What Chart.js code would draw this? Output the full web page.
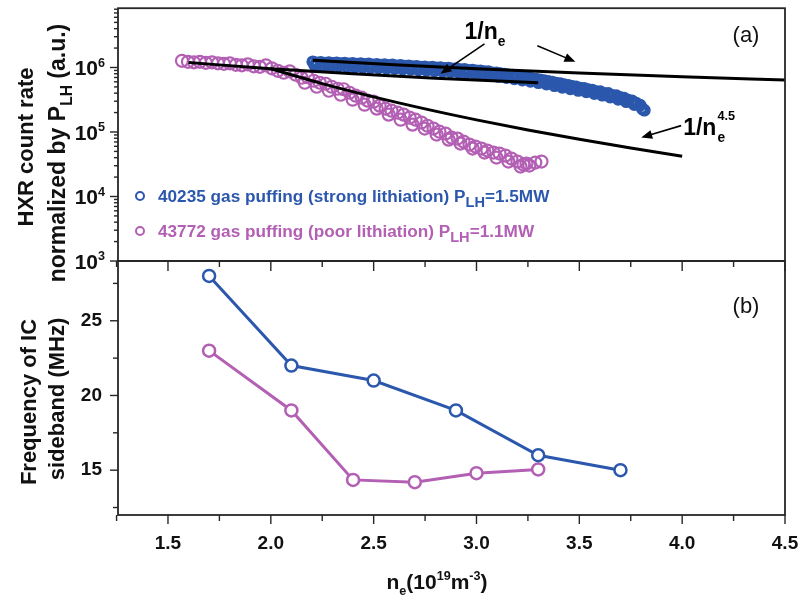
<!DOCTYPE html>
<html>
<head>
<meta charset="utf-8">
<script src="https://cdn.jsdelivr.net/npm/chart.js@4.4.0/dist/chart.umd.min.js"></script>
<style>
  html, body { margin: 0; padding: 0; background: #fff; }
  #wrap { position: relative; width: 803px; height: 602px; }
  canvas { position: absolute; left: 0; top: 0; }
</style>
</head>
<body>
<div id="wrap">
  <canvas id="hxr" width="803" height="602"></canvas>
  <canvas id="freq" width="803" height="602"></canvas>
</div>
<script>
// panel (a): HXR count rate vs ne
const blueNe = [2.204, 2.223, 2.243, 2.262, 2.282, 2.301, 2.320, 2.340, 2.359, 2.379,
  2.398, 2.417, 2.437, 2.456, 2.476, 2.495, 2.515, 2.534, 2.553, 2.573,
  2.592, 2.612, 2.631, 2.650, 2.670, 2.689, 2.709, 2.728, 2.748, 2.767,
  2.786, 2.806, 2.825, 2.845, 2.864, 2.883, 2.903, 2.922, 2.942, 2.961,
  2.981, 3.000, 3.019, 3.039, 3.058, 3.078, 3.097, 3.117, 3.136, 3.155,
  3.175, 3.194, 3.214, 3.233, 3.252, 3.272, 3.291, 3.311, 3.330, 3.350,
  3.369, 3.388, 3.408, 3.427, 3.447, 3.466, 3.485, 3.505, 3.524, 3.544,
  3.563, 3.583, 3.602, 3.621, 3.641, 3.660, 3.680, 3.699, 3.718, 3.738,
  3.757, 3.777, 3.796, 3.816,
  2.214, 2.252, 2.291, 2.330, 2.369, 2.408, 2.447, 2.485, 2.524, 2.563,
  2.602, 2.641, 2.680, 2.718, 2.757, 2.796, 2.835, 2.874, 2.913, 2.951,
  2.990, 3.029, 3.068, 3.107, 3.146, 3.184, 3.223, 3.262, 3.301, 3.340,
  3.379, 3.417, 3.456, 3.495, 3.534, 3.573, 3.612, 3.650, 3.689, 3.728,
  3.767, 3.806];
const blueHxr = [1.225e6, 1.182e6, 1.203e6, 1.170e6, 1.191e6, 1.161e6, 1.182e6, 1.149e6, 1.170e6, 1.141e6,
  1.157e6, 1.129e6, 1.145e6, 1.117e6, 1.133e6, 1.101e6, 1.121e6, 1.089e6, 1.105e6, 1.078e6,
  1.093e6, 1.062e6, 1.078e6, 1.047e6, 1.062e6, 1.033e6, 1.044e6, 1.011e6, 1.025e6, 9.965e5,
  1.011e6, 9.824e5, 9.929e5, 9.650e5, 9.754e5, 9.480e5, 9.581e5, 9.279e5, 9.346e5, 9.052e5,
  9.116e5, 8.829e5, 8.859e5, 8.581e5, 8.581e5, 8.279e5, 8.250e5, 7.990e5, 7.905e5, 7.656e5,
  7.575e5, 7.336e5, 7.232e5, 7.029e5, 6.930e5, 6.711e5, 6.593e5, 6.407e5, 6.272e5, 6.074e5,
  5.925e5, 5.738e5, 5.598e5, 5.402e5, 5.288e5, 5.085e5, 4.995e5, 4.803e5, 4.751e5, 4.519e5,
  4.471e5, 4.239e5, 4.209e5, 3.977e5, 3.949e5, 3.704e5, 3.651e5, 3.424e5, 3.340e5, 3.110e5,
  3.022e5, 2.795e5, 2.603e5, 2.180e5,
  1.082e6, 1.062e6, 1.052e6, 1.044e6, 1.033e6, 1.022e6, 1.011e6, 1.000e6, 9.90e5, 9.76e5,
  9.65e5, 9.52e5, 9.38e5, 9.22e5, 9.05e5, 8.93e5, 8.77e5, 8.61e5, 8.46e5, 8.25e5,
  8.05e5, 7.82e5, 7.58e5, 7.28e5, 6.98e5, 6.69e5, 6.39e5, 6.12e5, 5.82e5, 5.54e5,
  5.23e5, 4.94e5, 4.67e5, 4.41e5, 4.20e5, 3.95e5, 3.72e5, 3.49e5, 3.22e5, 2.95e5,
  2.67e5, 2.30e5];

const pinkNe = [1.568, 1.597, 1.626, 1.655, 1.684, 1.714, 1.743, 1.772, 1.801, 1.830,
  1.859, 1.888, 1.917, 1.947, 1.976, 2.005, 2.034, 2.063, 2.092, 2.121,
  2.150, 2.180, 2.209, 2.238, 2.267, 2.296, 2.325, 2.354, 2.383, 2.413,
  2.442, 2.471, 2.500, 2.529, 2.558, 2.587, 2.617, 2.646, 2.675, 2.704,
  2.733, 2.762, 2.791, 2.820, 2.850, 2.879, 2.908, 2.937, 2.966, 2.995,
  3.024, 3.053, 3.083, 3.112, 3.141, 3.170, 3.199, 3.228, 3.257, 3.286, 3.316,
  2.165, 2.223, 2.282, 2.340, 2.398, 2.456, 2.515, 2.573, 2.631, 2.689,
  2.748, 2.806, 2.864, 2.922, 2.981, 3.039, 3.097, 3.155, 3.214, 3.243];
const pinkHxr = [1.270e6, 1.225e6, 1.203e6, 1.225e6, 1.182e6, 1.203e6, 1.161e6, 1.141e6, 1.161e6, 1.101e6,
  1.081e6, 1.121e6, 1.044e6, 1.025e6, 1.081e6, 9.72e5, 8.89e5, 8.28e5, 8.73e5, 7.71e5,
  6.93e5, 7.06e5, 6.23e5, 5.80e5, 5.60e5, 5.03e5, 4.68e5, 4.60e5, 4.06e5, 3.65e5,
  3.40e5, 3.06e5, 2.95e5, 2.56e5, 2.30e5, 2.14e5, 1.99e5, 1.86e5, 1.67e5, 1.55e5,
  1.40e5, 1.25e5, 1.13e5, 1.01e5, 9.44e4, 8.18e4, 7.90e4, 7.10e4, 6.38e4, 5.94e4,
  5.53e4, 5.15e4, 4.80e4, 4.63e4, 4.31e4, 3.87e4, 3.48e4, 3.13e4, 3.02e4, 3.36e4, 3.48e4,
  5.80e5, 5.03e5, 4.36e5, 3.78e5, 3.17e5, 2.65e5, 2.30e5, 1.86e5, 1.55e5, 1.30e5,
  1.13e5, 9.11e4, 7.62e4, 6.61e4, 5.53e4, 4.80e4, 4.01e4, 3.48e4, 2.91e4, 3.24e4];

// fitted scaling lines
const fitNeA = [2.204, 2.6, 3.0, 3.5, 4.0, 4.5];
const fitHxrA = [1.30e6, 1.102e6, 9.55e5, 8.19e5, 7.16e5, 6.37e5];
const fitNeB = [1.6, 2.0, 2.4, 2.8, 3.3];
const fitHxrB = [1.195e6, 9.56e5, 7.97e5, 6.83e5, 5.79e5];
const fitNeC = [2.0, 2.25, 2.5, 2.75, 3.0, 3.25, 3.5, 3.75, 4.0];
const fitHxrC = [9.55e5, 5.62e5, 3.50e5, 2.28e5, 1.54e5, 1.07e5, 7.70e4, 5.64e4, 4.22e4];

// panel (b): IC sideband frequency vs ne
const freqNeBlue = [1.7, 2.1, 2.5, 2.9, 3.3, 3.7];
const freqBlue = [28, 22, 21, 19, 16, 15];
const freqNePink = [1.7, 2.1, 2.4, 2.7, 3.0, 3.3];
const freqPink = [23, 19, 14.35, 14.2, 14.8, 15.05];

// ticks
const neTicks = [1.5, 2.0, 2.5, 3.0, 3.5, 4.0, 4.5];
const neTickLabels = ['1.5', '2.0', '2.5', '3.0', '3.5', '4.0', '4.5'];
const neMinorTicks = [1.25, 1.75, 2.25, 2.75, 3.25, 3.75, 4.25];
const hxrTicks = [1e3, 1e4, 1e5, 1e6];
const hxrTickExp = ['3', '4', '5', '6'];
const hxrMinorMant = [2, 3, 4, 5, 6, 7, 8, 9];
const freqTicks = [15, 20, 25];
const freqMinorTicks = [12.5, 17.5, 22.5, 27.5];

const blue = '#2b57ad';
const pink = '#b25fb4';
const axisColor = '#262626';
const FONT = '"Liberation Sans", Arial, Helvetica, sans-serif';

const pts = (xs, ys) => xs.map((x, i) => ({ x, y: ys[i] }));

// parts: [text, 'sub'|'sup'|'', sizeScale]
function drawRich(ctx, parts, x, y, size, align, weight) {
  weight = weight || 'bold';
  const fontOf = p => `${weight} ${(size * (p[2] || (p[1] ? 0.6 : 1))).toFixed(1)}px ${FONT}`;
  let w = 0;
  parts.forEach(p => { ctx.font = fontOf(p); w += ctx.measureText(p[0]).width; });
  let cx = align === 'center' ? x - w / 2 : align === 'right' ? x - w : x;
  ctx.textAlign = 'left';
  ctx.textBaseline = 'alphabetic';
  parts.forEach(p => {
    ctx.font = fontOf(p);
    const dy = p[1] === 'sub' ? size * 0.3 : p[1] === 'sup' ? -size * 0.42 : 0;
    ctx.fillText(p[0], cx, y + dy);
    cx += ctx.measureText(p[0]).width;
  });
  return cx;
}

function line(ctx, x1, y1, x2, y2) {
  ctx.beginPath();
  ctx.moveTo(x1, y1);
  ctx.lineTo(x2, y2);
  ctx.stroke();
}

function arrow(ctx, x1, y1, x2, y2) {
  const a = Math.atan2(y2 - y1, x2 - x1), L = 11, W = 4.5;
  ctx.lineWidth = 1.6;
  line(ctx, x1, y1, x2 - L * 0.8 * Math.cos(a), y2 - L * 0.8 * Math.sin(a));
  ctx.beginPath();
  ctx.moveTo(x2, y2);
  ctx.lineTo(x2 - L * Math.cos(a) + W * Math.sin(a), y2 - L * Math.sin(a) - W * Math.cos(a));
  ctx.lineTo(x2 - L * Math.cos(a) - W * Math.sin(a), y2 - L * Math.sin(a) + W * Math.cos(a));
  ctx.closePath();
  ctx.fill();
}

function ring(ctx, x, y, r, color) {
  ctx.beginPath();
  ctx.arc(x, y, r, 0, Math.PI * 2);
  ctx.strokeStyle = color;
  ctx.lineWidth = 2;
  ctx.stroke();
}

function xAxisTicks(ctx, xs, yPix, major, minor) {
  neTicks.forEach(v => line(ctx, xs.getPixelForValue(v), yPix, xs.getPixelForValue(v), yPix + major));
  neMinorTicks.forEach(v => line(ctx, xs.getPixelForValue(v), yPix, xs.getPixelForValue(v), yPix + minor));
}

const hxrDecor = {
  id: 'hxrDecor',
  afterDraw(chart) {
    const { ctx, chartArea: a, scales: { x, y } } = chart;
    ctx.save();
    ctx.strokeStyle = axisColor;
    ctx.fillStyle = axisColor;
    ctx.lineWidth = 1.8;
    ctx.strokeRect(a.left, a.top, a.right - a.left, a.bottom - a.top);

    // log ticks on left
    ctx.lineWidth = 1.4;
    hxrTicks.forEach(v => line(ctx, a.left, y.getPixelForValue(v), a.left - 8, y.getPixelForValue(v)));
    hxrTicks.forEach(d => hxrMinorMant.forEach(m => {
      const v = d * m;
      if (v <= y.max) line(ctx, a.left, y.getPixelForValue(v), a.left - 4, y.getPixelForValue(v));
    }));
    ctx.fillStyle = '#111';
    hxrTicks.forEach((v, i) => {
      drawRich(ctx, [['10', '', 1], [hxrTickExp[i], 'sup', 0.6]], a.left - 13, y.getPixelForValue(v) + 8, 21, 'right');
    });

    // y title
    ctx.save();
    ctx.translate(33, 147);
    ctx.rotate(-Math.PI / 2);
    drawRich(ctx, [['HXR count rate']], 0, 0, 22, 'center');
    ctx.restore();
    ctx.save();
    ctx.translate(65, 153);
    ctx.rotate(-Math.PI / 2);
    drawRich(ctx, [['normalized by P'], ['LH', 'sub', 0.68], [' (a.u.)']], 0, 0, 23, 'center');
    ctx.restore();

    // legend
    const legend = [
      [blue, 196, [['40235 gas puffing (strong lithiation) P'], ['LH', 'sub', 0.85], ['=1.5MW']]],
      [pink, 231, [['43772 gas puffing (poor lithiation) P'], ['LH', 'sub', 0.85], ['=1.1MW']]]
    ];
    legend.forEach(([c, ly, parts]) => {
      ring(ctx, a.left + 22, ly, 4, c);
      ctx.fillStyle = c;
      drawRich(ctx, parts, a.left + 40, ly + 6, 17.2, 'left');
    });

    // scaling annotations
    ctx.fillStyle = '#000';
    ctx.strokeStyle = '#000';
    arrow(ctx, x.getPixelForValue(3.039), y.getPixelForValue(2.33e6), x.getPixelForValue(2.825), y.getPixelForValue(7.99e5));
    arrow(ctx, x.getPixelForValue(3.296), y.getPixelForValue(2.17e6), x.getPixelForValue(3.481), y.getPixelForValue(1.225e6));
    arrow(ctx, x.getPixelForValue(3.995), y.getPixelForValue(1.255e5), x.getPixelForValue(3.801), y.getPixelForValue(8.18e4));
    drawRich(ctx, [['1/n'], ['e', 'sub', 0.6]], x.getPixelForValue(2.942), y.getPixelForValue(2.78e6), 23, 'left');
    const nx = drawRich(ctx, [['1/n']], x.getPixelForValue(4.005), y.getPixelForValue(9.1e4), 23, 'left');
    const ny = y.getPixelForValue(9.1e4);
    drawRich(ctx, [['e', 'sub', 0.6]], nx + 1, ny, 23, 'left');
    drawRich(ctx, [['4.5', 'sup', 0.55]], nx + 1, ny - 5, 23, 'left');

    ctx.fillStyle = '#111';
    drawRich(ctx, [['(a)']], a.right - 39, a.top + 34, 22, 'center', 'normal');
    ctx.restore();
  }
};

const freqDecor = {
  id: 'freqDecor',
  afterDraw(chart) {
    const { ctx, chartArea: a, scales: { x, y } } = chart;
    ctx.save();
    ctx.strokeStyle = axisColor;
    ctx.fillStyle = '#111';
    ctx.lineWidth = 1.8;
    ctx.strokeRect(a.left, a.top, a.right - a.left, a.bottom - a.top);

    ctx.lineWidth = 1.4;
    // ticks of the upper panel's x axis, pointing down
    xAxisTicks(ctx, x, a.top, 10, 6);
    // bottom x axis ticks, outward
    xAxisTicks(ctx, x, a.bottom, 9, 6);
    freqTicks.forEach(v => line(ctx, a.left, y.getPixelForValue(v), a.left - 8, y.getPixelForValue(v)));
    freqMinorTicks.forEach(v => line(ctx, a.left, y.getPixelForValue(v), a.left - 5, y.getPixelForValue(v)));

    ctx.font = `bold 19px ${FONT}`;
    ctx.textAlign = 'center';
    ctx.textBaseline = 'middle';
    neTicks.forEach((v, i) => ctx.fillText(neTickLabels[i], x.getPixelForValue(v), a.bottom + 29));
    ctx.textAlign = 'right';
    freqTicks.forEach(v => ctx.fillText(String(v), a.left - 16, y.getPixelForValue(v)));

    // titles
    drawRich(ctx, [['n'], ['e', 'sub', 0.6], ['(10'], ['19', 'sup', 0.6], ['m'], ['-3', 'sup', 0.6], [')']],
      437, 589, 21, 'center');
    ctx.save();
    ctx.translate(36, 402);
    ctx.rotate(-Math.PI / 2);
    drawRich(ctx, [['Frequency of IC']], 0, 0, 22, 'center');
    ctx.restore();
    ctx.save();
    ctx.translate(64, 399);
    ctx.rotate(-Math.PI / 2);
    drawRich(ctx, [['sideband (MHz)']], 0, 0, 22, 'center');
    ctx.restore();

    drawRich(ctx, [['(b)']], a.right - 39, a.top + 52, 22, 'center', 'normal');
    ctx.restore();
  }
};

const fitLine = (xs, ys) => ({
  data: pts(xs, ys), showLine: true, borderColor: '#000', borderWidth: 3,
  pointRadius: 0, cubicInterpolationMode: 'monotone', fill: false
});
const rings = (xs, ys, color, r, bw) => ({
  data: pts(xs, ys), showLine: false, pointRadius: r, pointBorderWidth: bw,
  pointBorderColor: color, pointBackgroundColor: 'rgba(255,255,255,0)'
});

new Chart(document.getElementById('hxr'), {
  type: 'scatter',
  data: {
    datasets: [
      fitLine(fitNeA, fitHxrA),
      fitLine(fitNeB, fitHxrB),
      fitLine(fitNeC, fitHxrC),
      rings(blueNe, blueHxr, blue, 4.6, 3.6),
      rings(pinkNe, pinkHxr, pink, 6, 2.2)
    ]
  },
  options: {
    responsive: false,
    animation: false,
    devicePixelRatio: 1,
    layout: { padding: { left: 118, top: 7, right: 18, bottom: 341 } },
    plugins: { legend: { display: false }, tooltip: { enabled: false } },
    scales: {
      x: { type: 'linear', min: 1.257, max: 4.5, display: false },
      y: { type: 'logarithmic', min: 1e3, max: 8.3e6, display: false }
    }
  },
  plugins: [hxrDecor]
});

const freqSeries = (xs, ys, color) => ({
  data: pts(xs, ys), showLine: true, borderColor: color, borderWidth: 3,
  pointRadius: 6, pointBorderWidth: 2.5, pointBorderColor: color, pointBackgroundColor: '#fff'
});

new Chart(document.getElementById('freq'), {
  type: 'scatter',
  data: {
    datasets: [
      freqSeries(freqNeBlue, freqBlue, blue),
      freqSeries(freqNePink, freqPink, pink)
    ]
  },
  options: {
    responsive: false,
    animation: false,
    devicePixelRatio: 1,
    layout: { padding: { left: 118, top: 261, right: 18, bottom: 87 } },
    plugins: { legend: { display: false }, tooltip: { enabled: false } },
    scales: {
      x: { type: 'linear', min: 1.257, max: 4.5, display: false },
      y: { type: 'linear', min: 12, max: 29, display: false }
    }
  },
  plugins: [freqDecor]
});
</script>
</body>
</html>
